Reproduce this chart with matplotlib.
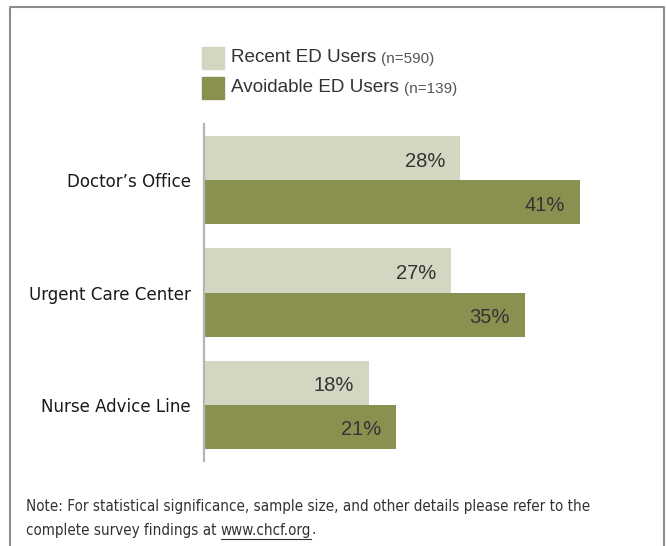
import matplotlib
matplotlib.use("Agg")
import matplotlib.pyplot as plt
from matplotlib.lines import Line2D
import numpy as np

# Данные
categories = ["Doctor’s Office", "Urgent Care Center", "Nurse Advice Line"]
recent = [28, 27, 18]
avoidable = [41, 35, 21]
series_names = ["Recent ED Users", "Avoidable ED Users"]
series_n = ["(n=590)", "(n=139)"]

light = "#d3d6c0"
dark = "#8a9150"
frame_col = "#8c8c8c"

plt.rcParams["font.family"] = ["Liberation Sans", "DejaVu Sans"]
narrow = dict(family="DejaVu Sans", stretch="condensed")

W, H = 667, 546
fig = plt.figure(figsize=(W / 100, H / 100), dpi=100)

def fx(px):
    return px / W

def fy(py):
    return 1 - py / H

# Оси: левая граница 204px, 112px на группу
ax = fig.add_axes([fx(204), fy(461), fx(640) - fx(204), fy(124) - fy(461)])
y = np.arange(len(categories))
h = 0.393
b1 = ax.barh(y - h / 2, recent, height=h, color=light)
b2 = ax.barh(y + h / 2, avoidable, height=h, color=dark)
ax.set_xlim(0, 436 / 9.16)
ax.set_ylim(2.5, -0.5)

for s in ["top", "right", "bottom"]:
    ax.spines[s].set_visible(False)
ax.spines["left"].set_color("#b5b5b5")
ax.spines["left"].set_linewidth(1.6)
ax.set_xticks([])
ax.set_yticks(y)
ax.set_yticklabels(categories, fontsize=13.3, color="#1a1a1a", **narrow)
ax.tick_params(axis="y", length=0, pad=9.4)

# Подписи значений внутри столбиков
for bars, vals in [(b1, recent), (b2, avoidable)]:
    for bar, v in zip(bars, vals):
        ax.annotate(f"{v}%", (v, bar.get_y() + bar.get_height() / 2),
                    xytext=(-15, -3), textcoords="offset pixels",
                    ha="right", va="center", fontsize=14.5, color="#333333")

# Легенда
for i, (name, n, col) in enumerate(zip(series_names, series_n, [light, dark])):
    top = 47 + i * 30
    fig.patches.append(plt.Rectangle((fx(202), fy(top + 22)), fx(22), fy(top) - fy(top + 22),
                                     transform=fig.transFigure, color=col, figure=fig))
    t = fig.text(fx(231), fy(top + 11), name, fontsize=13.6, color="#333333", va="center")
    fig.canvas.draw()
    bb = t.get_window_extent()
    fig.text(bb.x1 / W + fx(5), fy(top + 12), n, fontsize=11, color="#555555", va="center")

# Рамка
fig.add_artist(Line2D([fx(10), fx(10), fx(664), fx(664)], [0, fy(7), fy(7), 0],
                      transform=fig.transFigure, color=frame_col, lw=1.5))

# Примечание
note_font = dict(fontsize=10.9, color="#333333", **narrow)
fig.text(fx(26), fy(506), "Note: For statistical significance, sample size, and other details please refer to the",
         va="center", **note_font)
t1 = fig.text(fx(26), fy(530), "complete survey findings at ", va="center", **note_font)
fig.canvas.draw()
bb1 = t1.get_window_extent()
t2 = fig.text(bb1.x1 / W, fy(530), "www.chcf.org", va="center", **note_font)
fig.canvas.draw()
bb2 = t2.get_window_extent()
fig.text(bb2.x1 / W, fy(530), ".", va="center", **note_font)
fig.add_artist(Line2D([bb2.x0 / W, bb2.x1 / W], [fy(539), fy(539)],
                      transform=fig.transFigure, color="#333333", lw=0.8))

fig.savefig("out.png", dpi=100)
